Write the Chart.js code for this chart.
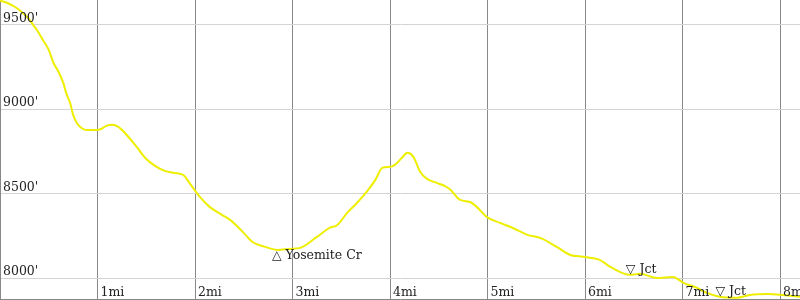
<!DOCTYPE html>
<html>
<head>
<meta charset="utf-8">
<script src="https://cdn.jsdelivr.net/npm/chart.js@4"></script>
<style>
  html, body { margin: 0; padding: 0; background: #fff; }
  #wrap { width: 800px; height: 300px; }
</style>
</head>
<body>
<div id="wrap"><canvas id="profile"></canvas></div>
<script>
// distance along trail (mi) and elevation (ft)
const miles = [0.00, 0.07, 0.15, 0.22, 0.29, 0.34, 0.39, 0.44, 0.50, 0.55, 0.60, 0.65, 0.68, 0.72, 0.75, 0.79, 0.84, 0.89, 0.99,
  1.03, 1.09, 1.15, 1.21, 1.30, 1.41, 1.49, 1.59, 1.69, 1.79, 1.88, 1.95, 2.05, 2.15, 2.26, 2.36, 2.49, 2.59, 2.72, 2.85, 2.97,
  3.08, 3.25, 3.38, 3.46, 3.56, 3.66, 3.76, 3.85, 3.92, 4.00, 4.05, 4.12, 4.18, 4.24, 4.31, 4.38, 4.48, 4.56, 4.62, 4.72, 4.82,
  4.89, 4.99, 5.13, 5.26, 5.41, 5.54, 5.71, 5.85, 5.98, 6.15, 6.26, 6.46, 6.56, 6.74, 6.90, 7.01, 7.15, 7.25, 7.38, 7.56, 7.69,
  7.87, 8.03, 8.21];
const elevation = [9644, 9632, 9608, 9579, 9540, 9500, 9460, 9411, 9352, 9273, 9223, 9155, 9095, 9036, 8967, 8918, 8888, 8878, 8878,
  8882, 8902, 8908, 8897, 8848, 8771, 8712, 8665, 8635, 8623, 8611, 8558, 8481, 8422, 8380, 8345, 8274, 8214, 8185, 8167, 8173,
  8179, 8244, 8297, 8315, 8386, 8445, 8511, 8582, 8653, 8659, 8671, 8712, 8742, 8718, 8629, 8588, 8564, 8546, 8523, 8463, 8451,
  8422, 8363, 8327, 8297, 8256, 8238, 8185, 8137, 8126, 8108, 8066, 8019, 8025, 8001, 8007, 7972, 7942, 7912, 7889, 7883, 7900,
  7906, 7900, 7889];

const mileTicks = [0, 1, 2, 3, 4, 5, 6, 7, 8];
const elevTicks = [8000, 8500, 9000, 9500];

// waypoints: "up" = △ below the point, "down" = ▽ above it
const wpMiles = [2.85, 6.48, 7.40];
const wpElev = [8167, 8019, 7887];
const wpNames = ["Yosemite Cr", "Jct", "Jct"];
const wpKind = ["up", "down", "down"];

const LABEL_FONT = "12.5px 'DejaVu Serif', serif";

// labels drawn inside the plot, next to each grid line
const insideTicks = {
  id: "insideTicks",
  afterDraw(chart) {
    const ctx = chart.ctx;
    const x = chart.scales.x, y = chart.scales.y;
    ctx.save();
    ctx.font = LABEL_FONT;
    ctx.fillStyle = "#222";
    ctx.textBaseline = "alphabetic";
    y.ticks.forEach(t => {
      ctx.fillText(t.value + "'", 3, y.getPixelForValue(t.value) - 3);
    });
    x.ticks.forEach(t => {
      if (t.value === 0) return;
      ctx.fillText(t.value + "mi", x.getPixelForValue(t.value) + 3, chart.chartArea.bottom - 3);
    });
    // waypoint markers
    wpMiles.forEach((m, i) => {
      const px = x.getPixelForValue(m);
      const py = y.getPixelForValue(wpElev[i]);
      if (wpKind[i] === "up") {
        ctx.textBaseline = "top";
        ctx.fillText("△ " + wpNames[i], px - 6, py);
      } else {
        ctx.textBaseline = "bottom";
        ctx.fillText("▽ " + wpNames[i], px - 6, py + 1);
      }
    });
    ctx.restore();
  }
};

new Chart(document.getElementById("profile"), {
  type: "line",
  data: {
    datasets: [{
      data: miles.map((m, i) => ({ x: m, y: elevation[i] })),
      borderColor: "#eeee00",
      borderWidth: 2,
      pointRadius: 0,
      cubicInterpolationMode: "monotone",
      fill: false
    }]
  },
  options: {
    responsive: true,
    maintainAspectRatio: false,
    animation: false,
    layout: { padding: { left: 0, right: 0, top: 0, bottom: 1 } },
    plugins: { legend: { display: false }, tooltip: { enabled: false } },
    scales: {
      x: {
        type: "linear",
        min: 0,
        max: 8.205,
        ticks: { display: false },
        afterBuildTicks(s) { s.ticks = mileTicks.map(v => ({ value: v })); },
        grid: { color: "#888", drawTicks: false, tickLength: 0 },
        border: { display: true, color: "#888" },
        afterFit(s) { s.height = 0; }
      },
      y: {
        min: 7876,
        max: 9648,
        ticks: { display: false },
        afterBuildTicks(s) { s.ticks = elevTicks.map(v => ({ value: v })); },
        grid: { color: "#d4d4d4", drawTicks: false, tickLength: 0 },
        border: { display: true, color: "#888" },
        afterFit(s) { s.width = 0; }
      }
    }
  },
  plugins: [insideTicks]
});
</script>
</body>
</html>
